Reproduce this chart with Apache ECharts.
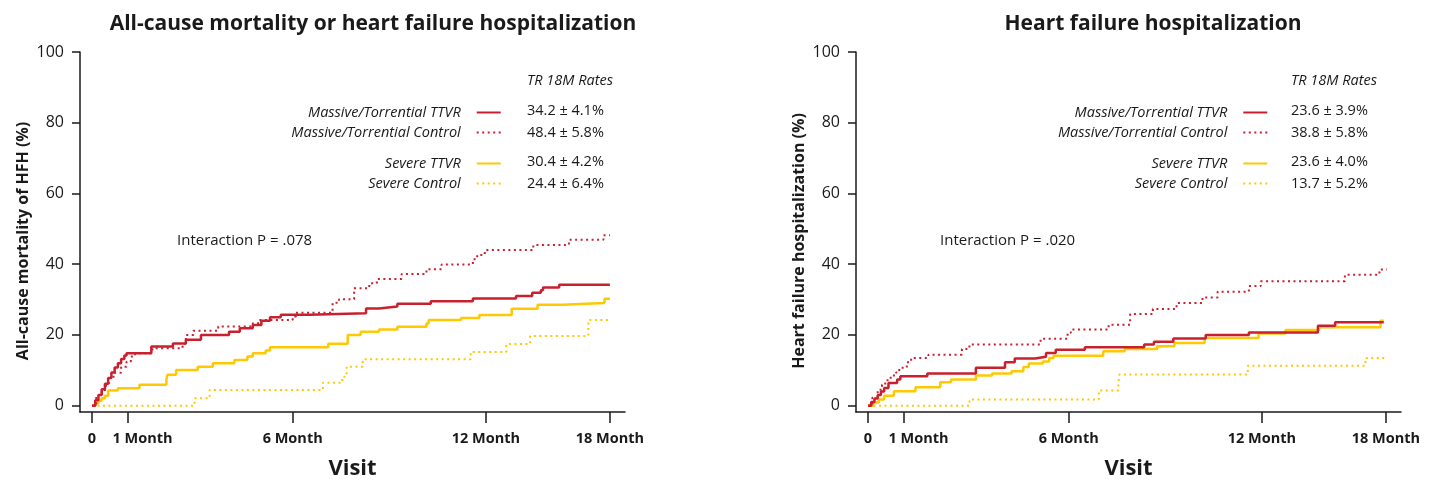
<!DOCTYPE html>
<html>
<head>
<meta charset="utf-8">
<script src="https://cdn.jsdelivr.net/npm/echarts@6.0.0/dist/echarts.min.js"></script>
<style>
  html, body { margin: 0; padding: 0; background: #fff; }
  #main { width: 1432px; height: 480px; }
</style>
</head>
<body>
<div id="main"></div>
<script>
// x in days since procedure, y in cumulative event rate (%)
var tickDays = [0, 33, 186, 365, 480];
var tickLabels = ['0', '1 Month', '6 Month', '12 Month', '18 Month'];
var yTicks = [0, 20, 40, 60, 80, 100];

var seriesNames = ['Massive/Torrential TTVR', 'Massive/Torrential Control', 'Severe TTVR', 'Severe Control'];
var rates1 = ['34.2 ± 4.1%', '48.4 ± 5.8%', '30.4 ± 4.2%', '24.4 ± 6.4%'];
var rates2 = ['23.6 ± 3.9%', '38.8 ± 5.8%', '23.6 ± 4.0%', '13.7 ± 5.2%'];
var titles = ['All-cause mortality or heart failure hospitalization', 'Heart failure hospitalization'];
var yNames = ['All-cause mortality of HFH (%)', 'Heart failure hospitalization (%)'];
var pTexts = ['Interaction P = .078', 'Interaction P = .020'];

// panel 1 : all-cause mortality or HFH
var mtTTVR1 = [[0,0],[3,1.5],[6,3],[9,4.6],[12,6.2],[15,7.8],[18,9.4],[21,10.8],[24,12],[27,13.2],[30,14.2],[32,14.8],
  [55,16.7],[75,17.6],[87,18.6],[101,20],[127,20.9],[137,21.9],[149,22.8],[157,24],[165,25],[175,25.7],[202,26.1],
  [254,27.5],[266,28],[283,28.8],[314,29.5],[353,30.3],[393,31],[408,31.9],[416,32.6],[418,33.4],[433,34.2],[480,34.2]];
var mtCtrl1 = [[0,0],[4,3],[9,4.4],[13,6.3],[16,8.2],[21,9.3],[27,11],[32,12.4],[36,13.9],[40,14.8],[56,16.2],[84,17.5],
  [87,20],[94,21.2],[117,22.4],[149,23.3],[155,24.2],[186,25.2],[189,26.3],[223,29.1],[229,30.1],[243,33.2],[257,34.6],
  [264,35.8],[287,37.2],[310,38.6],[324,39.9],[353,41.4],[357,42.6],[364,44],[409,45.4],[442,46.9],[474,48.2],[480,48.2]];
var svTTVR1 = [[0,0],[3,0.7],[6,1.4],[9,2.1],[12,2.8],[15,4.3],[24,4.9],[44,5.9],[69,7.5],[70,8.7],[78,10.1],[98,11],
  [112,12],[132,12.9],[144,13.9],[149,14.8],[161,15.6],[165,16.5],[219,17.5],[237,20],[249,20.9],[266,21.5],[283,22.3],
  [310,23.2],[312,24.2],[342,24.8],[359,25.6],[389,27.4],[413,28.5],[436,29],[475,30.2],[480,30.2]];
var svCtrl1 = [[0,0],[95,2.1],[109,4.4],[214,6.5],[232,8.2],[236,11],[251,13.1],[351,15.2],[384,17.4],[406,19.7],
  [460,24.2],[480,24.2]];

// panel 2 : heart failure hospitalization
var mtTTVR2 = [[0,0],[3,1],[6,2],[9,3],[12,4],[15,5],[19,6.4],[27,7.4],[30,8.3],[55,9.1],[100,10.7],[127,12.3],[136,13.3],
  [155,13.8],[165,14.9],[174,15.8],[201,16.5],[256,17.3],[265,18.1],[283,19],[313,20],[353,20.7],[417,22.6],[433,23.6],[478,23.6]];
var mtCtrl2 = [[0,0],[4,2.2],[9,4.5],[13,5.9],[16,7.2],[21,8.5],[26,9.4],[29,10.7],[36,12.3],[40,13.5],[56,14.4],
  [87,16],[94,17.3],[160,18.9],[185,20.6],[188,21.5],[223,22.9],[243,25.9],[264,27.3],[286,29],[310,30.6],[324,32.2],
  [353,33.8],[364,35.2],[442,37],[474,38.5],[481,38.5]];
var svTTVR2 = [[0,0],[5,0.9],[10,1.7],[15,2.8],[24,4.1],[44,5.2],[67,6.6],[77,7.4],[100,8.5],[115,9.1],[133,9.7],
  [144,10.9],[149,11.9],[162,12.5],[168,13.5],[172,14.1],[218,15.4],[238,16],[268,16.8],[284,17.7],[312,19.1],
  [362,20.4],[387,21.4],[418,22.2],[475,24],[478,24]];
var svCtrl2 = [[0,0],[94,1.7],[214,4.3],[232,6.2],[233,8.8],[352,11.3],[461,13.5],[481,13.5]];

var RED = '#c8202f', YEL = '#fdc903', INK = '#1a1a1a';
var FONT = 'Open Sans';
var panels = [
  { left: 80, data: [mtTTVR1, mtCtrl1, svTTVR1, svCtrl1], rates: rates1, titleX: 373, iconRight: 501.7, valX: 527, pX: 177 },
  { left: 856, data: [mtTTVR2, mtCtrl2, svTTVR2, svCtrl2], rates: rates2, titleX: 1153, iconRight: 1268.3, valX: 1291, pX: 940 }
];
var styles = [
  { color: RED, type: 'solid', width: 2.5 },
  { color: RED, type: [2, 3.5], width: 2 },
  { color: YEL, type: 'solid', width: 2.5 },
  { color: YEL, type: [2, 3.5], width: 2 }
];
var rowY = [112.5, 132.5, 163.5, 183.5];

var grid = [], xAxis = [], yAxis = [], series = [], legend = [], graphic = [];
panels.forEach(function (p, k) {
  grid.push({ left: p.left, width: 545, top: 52, height: 360, outerBoundsMode: 'none' });
  xAxis.push({
    type: 'value', gridIndex: k, min: -11.1, max: 494,
    name: 'Visit', nameLocation: 'middle', nameGap: 46,
    nameTextStyle: { fontFamily: FONT, fontWeight: 'bold', fontSize: 22, color: INK },
    axisLine: { onZero: false, lineStyle: { color: INK, width: 1.5 } },
    axisTick: { length: 11, customValues: tickDays, lineStyle: { color: INK, width: 1.5 } },
    axisLabel: {
      customValues: tickDays, margin: 19, fontFamily: FONT, fontWeight: 'bold', fontSize: 14.5, color: INK,
      formatter: function (v) {
        var t = tickLabels[tickDays.indexOf(v)];
        return v === tickDays[1] ? '{shift|' + t + '}' : t;
      },
      rich: { shift: { padding: [0, 0, 0, 30], fontFamily: FONT, fontWeight: 'bold', fontSize: 14.5, color: INK } }
    },
    splitLine: { show: false }
  });
  yAxis.push({
    type: 'value', gridIndex: k, min: -1.8, max: 100,
    name: yNames[k], nameLocation: 'middle', nameGap: 49, nameRotate: 90,
    nameTextStyle: { fontFamily: FONT, fontWeight: 'bold', fontSize: 16, color: INK, padding: [0, 18, 0, 0] },
    axisLine: { show: true, onZero: false, lineStyle: { color: INK, width: 1.5 } },
    axisTick: { show: true, length: 8, customValues: yTicks, lineStyle: { color: INK, width: 1.5 } },
    axisLabel: { customValues: yTicks, margin: 16, fontFamily: FONT, fontSize: 16, color: INK },
    splitLine: { show: false }
  });
  p.data.forEach(function (d, i) {
    series.push({
      name: seriesNames[i], type: 'line', step: 'end', xAxisIndex: k, yAxisIndex: k,
      data: d, symbol: 'none', z: 10 - i,
      lineStyle: styles[i], itemStyle: { color: styles[i].color }
    });
  });
  [[0, 1], [2, 3]].forEach(function (grp) {
    legend.push({
      orient: 'vertical', align: 'right', selectedMode: false, padding: 0, itemGap: 0,
      right: 1432 - p.iconRight, top: rowY[grp[0]] - 10,
      itemWidth: 24, itemHeight: 10, itemStyle: { opacity: 0 },
      data: grp.map(function (i) { return seriesNames[i]; }),
      textStyle: { fontFamily: FONT, fontStyle: 'italic', fontSize: 14.5, color: INK, lineHeight: 20, padding: [0, 11, 0, 0] }
    });
  });
  graphic.push({
    type: 'text', x: p.titleX, y: 24,
    style: { text: titles[k], font: 'bold 21px "' + FONT + '"', fill: INK, align: 'center', verticalAlign: 'middle' }
  });
  graphic.push({
    type: 'text', x: p.valX, y: 81,
    style: { text: 'TR 18M Rates', font: 'italic 14.5px "' + FONT + '"', fill: INK, align: 'left', verticalAlign: 'middle' }
  });
  p.rates.forEach(function (r, i) {
    graphic.push({
      type: 'text', x: p.valX, y: rowY[i] - (i === 0 || i === 2 ? 2 : 0),
      style: { text: r, font: '14.5px "' + FONT + '"', fill: INK, align: 'left', verticalAlign: 'middle' }
    });
  });
  graphic.push({
    type: 'text', x: p.pX, y: 241,
    style: { text: pTexts[k], font: '15px "' + FONT + '"', fill: INK, align: 'left', verticalAlign: 'middle' }
  });
});

var chart = echarts.init(document.getElementById('main'));
chart.setOption({
  animation: false,
  backgroundColor: '#fff',
  grid: grid, xAxis: xAxis, yAxis: yAxis,
  legend: legend, series: series, graphic: graphic
});
</script>
</body>
</html>
